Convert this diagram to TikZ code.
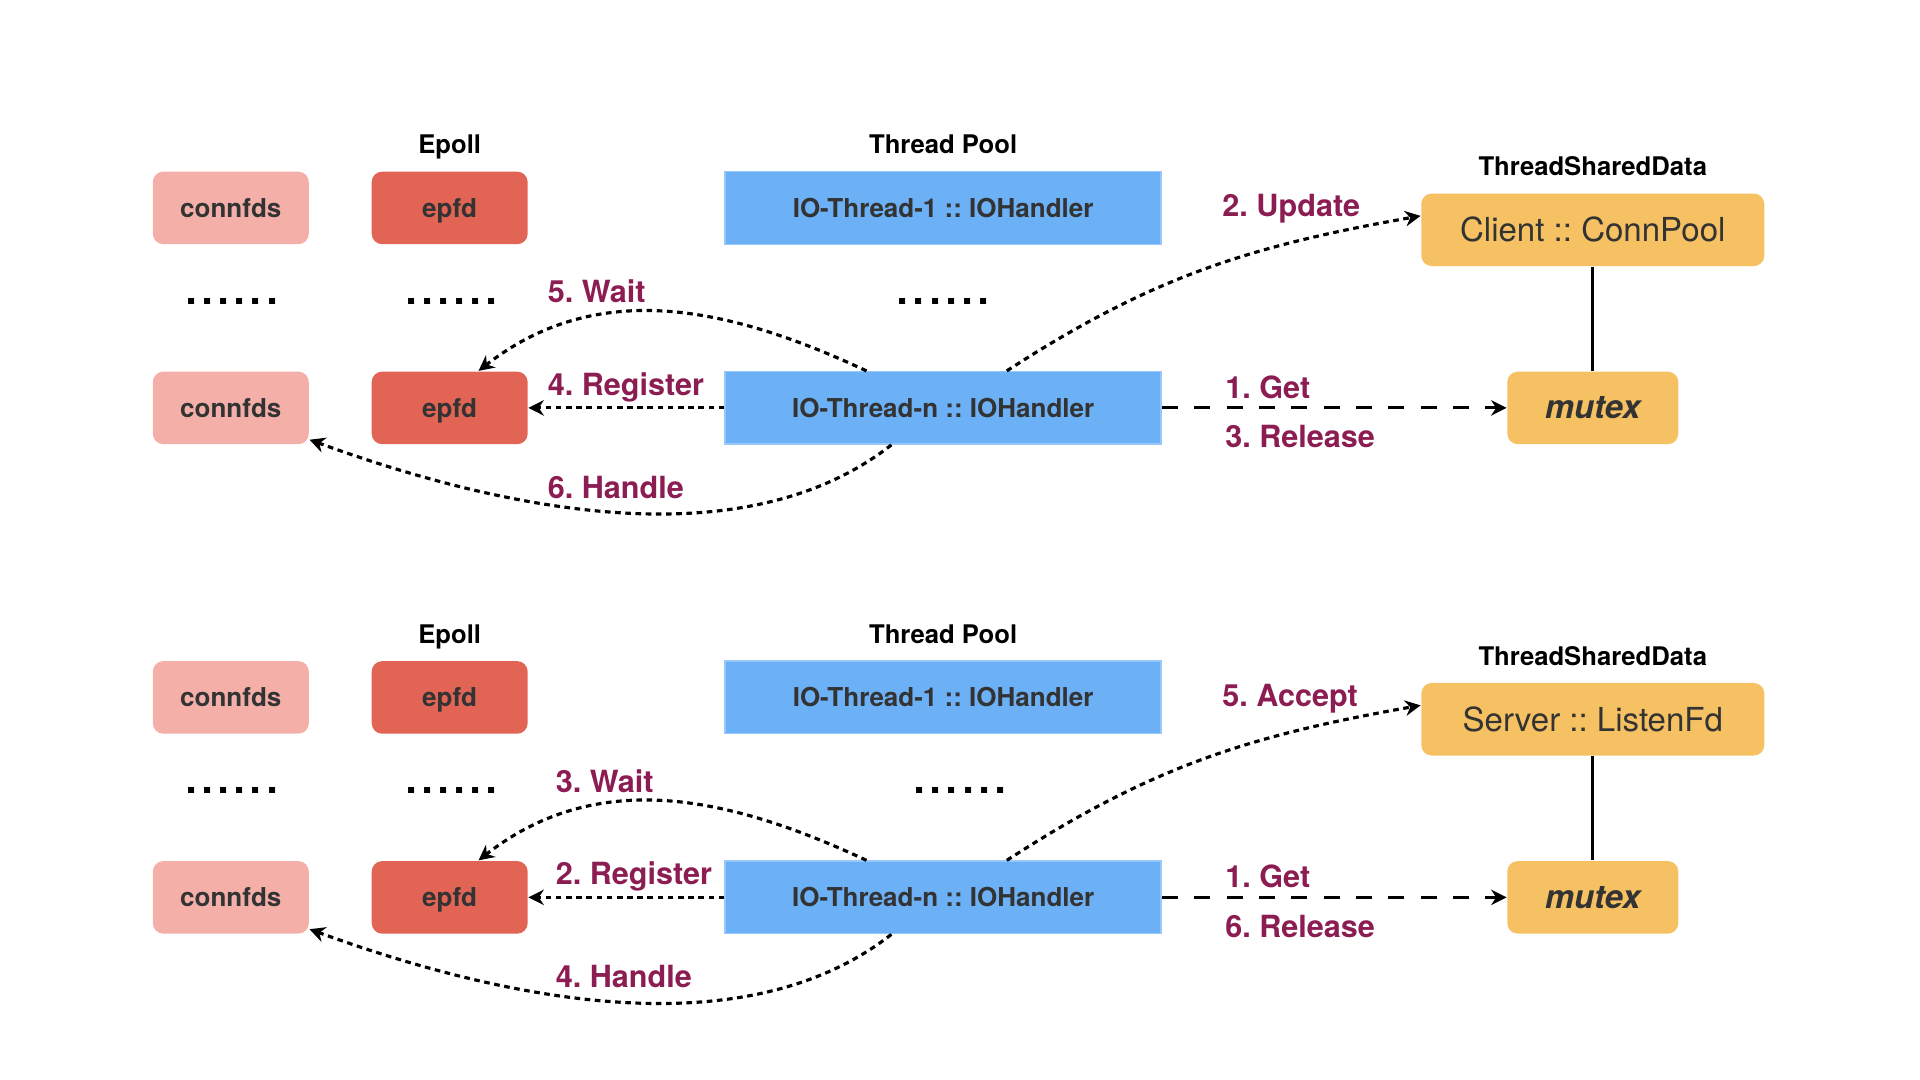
\documentclass[tikz,border=0pt]{standalone}
\usepackage{fontspec}
\setmainfont{TeX Gyre Heros}
\usetikzlibrary{calc,arrows.meta}
\frenchspacing

\definecolor{connpink}{RGB}{244,176,168}
\definecolor{epred}{RGB}{226,100,84}
\definecolor{poolblue}{RGB}{108,176,246}
\definecolor{sharedyellow}{RGB}{245,193,98}
\definecolor{boxtext}{RGB}{51,51,51}
\definecolor{steplabel}{RGB}{140,29,82}

\begin{document}
\begin{tikzpicture}[x=0.00995cm,y=0.00995cm]

  \tikzstyle{every node}=[font=\bfseries]
  \tikzstyle{fdbox}=[rounded corners=3pt, minimum width=1.56cm, minimum height=0.726cm, text depth=0pt, text=boxtext, font=\fontsize{7.4}{9}\selectfont\bfseries]
  \tikzstyle{threadbox}=[fill=poolblue, draw=poolblue!70!white, line width=0.4pt, minimum width=4.36cm, minimum height=0.726cm, text=boxtext, font=\fontsize{7.4}{9}\selectfont\bfseries]
  \tikzstyle{sharedbox}=[fill=sharedyellow, rounded corners=3pt, minimum height=0.726cm, text=boxtext]
  \tikzstyle{header}=[text depth=0pt, font=\fontsize{7.3}{9}\selectfont\bfseries]
  \tikzstyle{steptext}=[anchor=west, inner sep=0pt, text=steplabel, font=\fontsize{8.7}{10}\selectfont\bfseries]
  \tikzstyle{moredots}=[font=\fontsize{16.5}{18}\selectfont]
  \tikzstyle{dotline}=[-{Stealth[length=4.4pt,width=4.4pt]}, line width=0.9pt, dash pattern=on 1.6pt off 1.3pt]
  \tikzstyle{dashline}=[-{Stealth[length=4.4pt,width=4.4pt]}, line width=0.9pt, dash pattern=on 4.6pt off 4.6pt]

  \useasboundingbox (0,0) rectangle (19.2cm,-10.8cm);

  \foreach \dy/\p/\lx/\dotx/\wait/\reg/\hdl/\upd/\rel/\shared in
    {0/a/550/948/{5. Wait}/{4. Register}/{6. Handle}/{2. Update}/{3. Release}/{Client :: ConnPool},
     -492/b/558/965/{3. Wait}/{2. Register}/{4. Handle}/{5. Accept}/{6. Release}/{Server :: ListenFd}}
  {
    \node (hep\p) at (452,-145+\dy) [header] {Epoll};
    \node (hpool\p) at (948,-145+\dy) [header] {Thread Pool};
    \node (hshr\p) at (1601,-167+\dy) [header] {ThreadSharedData};

    \node (cfa\p) at (232,-209+\dy) [fdbox, fill=connpink] {connfds};
    \node (epa\p) at (452,-209+\dy) [fdbox, fill=epred] {epfd};
    \node (tha\p) at (948,-209+\dy) [threadbox] {IO-Thread-1 :: IOHandler};
    \node (shr\p) at (1601,-231+\dy) [sharedbox, minimum width=3.43cm, font=\fontsize{9.4}{11}\selectfont] {\shared};

    \node (dcf\p) at (233,-303+\dy) [moredots] {......};
    \node (dep\p) at (454,-303+\dy) [moredots] {......};
    \node (dth\p) at (\dotx,-303+\dy) [moredots] {......};

    \node (cfn\p) at (232,-410+\dy) [fdbox, fill=connpink] {connfds};
    \node (epn\p) at (452,-410+\dy) [fdbox, fill=epred] {epfd};
    \node (thn\p) at (948,-410+\dy) [threadbox] {IO-Thread-n :: IOHandler};
    \node (mtx\p) at (1601,-410+\dy) [sharedbox, minimum width=1.71cm, font=\fontsize{9.3}{11}\selectfont\bfseries\itshape] {mutex};

    \node (lwait\p) at (\lx,-293+\dy) [steptext] {\wait};
    \node (lreg\p) at (\lx,-389+\dy) [steptext] {\reg};
    \node (lhdl\p) at (\lx,-490+\dy) [steptext] {\hdl};
    \node (lupd\p) at (1228,-210+\dy) [steptext] {\upd};
    \node (lget\p) at (1231,-389+\dy) [steptext] {1. Get};
    \node (lrel\p) at (1231,-439+\dy) [steptext] {\rel};

    \draw [dotline] (thn\p.west) -- (epn\p.east);
    \draw [dotline] ($(thn\p.north)+(-77,0)$) to[out=155,in=38] ($(epn\p.north)+(29,0)$);
    \draw [dotline] ($(thn\p.south)+(-52,0)$) to[out=218,in=-20,looseness=0.85] ($(cfn\p.east)+(0,-32)$);
    \draw [dotline] ($(thn\p.north)+(64,0)$) to[out=33,in=190] ($(shr\p.west)+(0,14)$);
    \draw [dashline] (thn\p.east) -- (mtx\p.west);
    \draw [line width=0.9pt] (shr\p.south) -- (mtx\p.north);
  }

\end{tikzpicture}
\end{document}
